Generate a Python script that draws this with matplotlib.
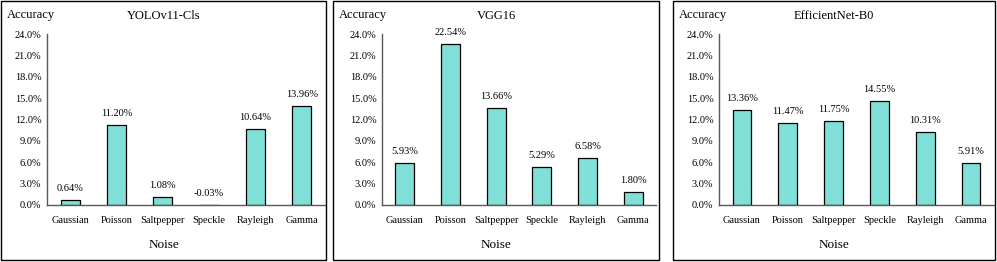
import matplotlib.pyplot as plt
from matplotlib.patches import Rectangle
from matplotlib.ticker import FuncFormatter

plt.rcParams['font.family'] = ['Liberation Serif', 'DejaVu Serif']

# noise types
noises = ["Gaussian", "Poisson", "Saltpepper", "Speckle", "Rayleigh", "Gamma"]

# accuracy change per model (%)
yolo_vals = [0.64, 11.20, 1.08, -0.03, 10.64, 13.96]
vgg_vals = [5.93, 22.54, 13.66, 5.29, 6.58, 1.80]
effnet_vals = [13.36, 11.47, 11.75, 14.55, 10.31, 5.91]

model_names = ["YOLOv11-Cls", "VGG16", "EfficientNet-B0"]
yticks = [0, 3, 6, 9, 12, 15, 18, 21, 24]

W, H = 997, 262
fig = plt.figure(figsize=(W / 100, H / 100), dpi=100)

# panel boxes and axes in pixel coords (left, right)
boxes = [(1, 326), (333, 659), (673, 995)]
axes_x = [(47, 325), (382, 656), (719, 994)]
ax_top, ax_bot = 34, 205
box_top, box_bot = 1, 260

bar_color = '#80DFD7'
spine_color = '#595959'

for vals, name, (bl, br), (al, ar) in zip([yolo_vals, vgg_vals, effnet_vals],
                                          model_names, boxes, axes_x):
    # box around each panel
    fig.patches.append(Rectangle((bl / W, 1 - box_bot / H), (br - bl) / W,
                                 (box_bot - box_top) / H, transform=fig.transFigure,
                                 fill=False, edgecolor='black', lw=1.0))
    ax = fig.add_axes([al / W, 1 - ax_bot / H, (ar - al) / W, (ax_bot - ax_top) / H])
    x = range(len(noises))
    bars = ax.bar(x, vals, width=0.41, color=bar_color, edgecolor='black', lw=0.9)
    for b, v in zip(bars, vals):
        ax.annotate(f"{v:.2f}%", (b.get_x() + b.get_width() / 2, max(v, 0)),
                    xytext=(0, 5), textcoords='offset points',
                    ha='center', va='bottom', fontsize=7.5)
    ax.set_xlim(-0.5, 5.5)
    ax.set_ylim(0, 24)
    ax.set_yticks(yticks)
    ax.yaxis.set_major_formatter(FuncFormatter(lambda v, p: f"{v:.1f}%"))
    ax.set_xticks(list(x))
    ax.set_xticklabels(noises)
    ax.tick_params(axis='both', length=0, labelsize=7.5)
    ax.tick_params(axis='x', pad=8)
    ax.tick_params(axis='y', pad=4)
    for s in ['top', 'right']:
        ax.spines[s].set_visible(False)
    for s in ['left', 'bottom']:
        ax.spines[s].set_color(spine_color)
        ax.spines[s].set_linewidth(1.0)
    ax.patch.set_alpha(0)

    cx = (bl + br) / 2 / W
    fig.text(cx, 1 - 16 / H, name, ha='center', va='center', fontsize=9)
    fig.text((bl + 6) / W, 1 - 15 / H, "Accuracy", ha='left', va='center', fontsize=9)
    fig.text(cx, 1 - 245 / H, "Noise", ha='center', va='center', fontsize=9.5)

fig.savefig("out.png", dpi=100)
